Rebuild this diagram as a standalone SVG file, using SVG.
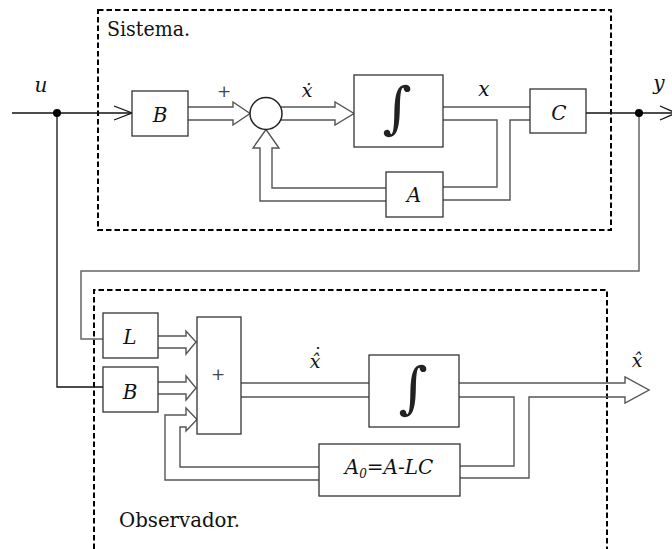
<svg xmlns="http://www.w3.org/2000/svg" width="672" height="549" viewBox="0 0 672 549">
<style>
.frame{fill:none;stroke:#000;stroke-width:2;stroke-dasharray:5.5 3}
.box{fill:#fff;stroke:#333;stroke-width:1.3}
.dbl{fill:#fff;stroke:#555;stroke-width:1.4;stroke-linejoin:miter}
.open{fill:none}
.ln{fill:none;stroke:#111;stroke-width:1.3}
.gln{fill:none;stroke:#666;stroke-width:1.5}
text{font-family:'DejaVu Serif','Liberation Serif',serif;fill:#111}
.i{font-style:italic}
.m{text-anchor:middle}
.int{font-family:'Noto Serif','DejaVu Serif',serif;fill:#222}
.plus{fill:#444}
</style>
<rect width="672" height="549" fill="#fff"/>
<g id="frames">
<rect class="frame" x="98" y="10" width="513" height="220"/>
<path class="frame" d="M94,549 V290 H607 V549"/>
<text x="107" y="36" font-size="20" textLength="83" lengthAdjust="spacingAndGlyphs">Sistema.</text>
<text x="119" y="527" font-size="21" textLength="121" lengthAdjust="spacingAndGlyphs">Observador.</text>
</g>
<g id="connectors">
<path class="ln" d="M12,113 H132"/>
<path class="ln" d="M114,106 L132,113 L114,120"/>
<path class="ln" d="M57,113 V387 H103"/>
<circle cx="57" cy="113" r="4" fill="#000"/>
<path class="ln" d="M586,113 H672"/>
<path class="ln" d="M660,106 L676,113 L660,120"/>
<path class="gln" d="M639,113 V271 H81 V339 H103"/>
<circle cx="639" cy="113" r="4" fill="#000"/>
<path class="dbl" d="M188,107 H233 V102 L250,113.5 L233,125 V120 H188"/>
<path class="dbl" d="M266,107 H335 V102 L354,113.5 L335,125 V120 H266"/>
<path class="dbl" d="M443,107 H530"/>
<path class="dbl open" d="M443,120 H497 V187 H443"/>
<path class="dbl open" d="M530,120 H510 V200 H443"/>
<path class="dbl" d="M386,188 H272 V148 H279 L266,129.5 L253,148 H260 V201 H386"/>
<path class="dbl" d="M158,336 H186 V331 L196,342 L186,354 V348 H158"/>
<path class="dbl" d="M158,382 H186 V376 L196,388 L186,400 V394 H158"/>
<path class="dbl" d="M319,467 H180 V427 H186 V431 L197,419.5 L186,408 V415 H165 V480 H319"/>
<path class="dbl" d="M241,383 H369"/>
<path class="dbl" d="M241,397 H369"/>
<path class="dbl open" d="M459,383 H625 V377 L649,390 L625,403 V397 H529 V478 H460"/>
<path class="dbl open" d="M459,397 H514 V466 H460"/>
<text class="m plus" x="224" y="97" font-size="17">+</text>
<text class="i m" x="307" y="97" font-size="19">ẋ</text>
<text class="i m" x="484" y="96" font-size="20">x</text>
<text class="i m" x="659" y="90" font-size="20">y</text>
<text class="i m" x="41" y="92" font-size="20">u</text>
<text class="i m" x="315" y="368" font-size="19">x̂<tspan x="318" y="361" font-style="normal">˙</tspan></text>
<text class="i m" x="637" y="367" font-size="19">x̂</text>
</g>
<g id="sys-B"><rect class="box" x="132" y="91" width="56" height="45"/><text class="i m" x="160" y="122" font-size="20">B</text></g>
<g id="sum"><circle cx="266" cy="113.5" r="16" fill="#fff" stroke="#222" stroke-width="1.5"/></g>
<g id="sys-int"><rect class="box" x="354" y="75" width="89" height="72"/><text class="m int" x="397" y="127" font-size="56">∫</text></g>
<g id="sys-C"><rect class="box" x="530" y="89" width="56" height="44"/><text class="i m" x="559" y="120" font-size="20">C</text></g>
<g id="sys-A"><rect class="box" x="386" y="172" width="57" height="45"/><text class="i m" x="414" y="202" font-size="20">A</text></g>
<g id="obs-L"><rect class="box" x="103" y="313" width="55" height="45"/><text class="i m" x="130" y="344" font-size="20">L</text></g>
<g id="obs-B"><rect class="box" x="103" y="367" width="55" height="45"/><text class="i m" x="130" y="399" font-size="20">B</text></g>
<g id="obs-sum"><rect class="box" x="197" y="317" width="44" height="117"/><text class="m plus" x="218" y="380" font-size="17">+</text></g>
<g id="obs-int"><rect class="box" x="369" y="355" width="90" height="72"/><text class="m int" x="413" y="407" font-size="56">∫</text></g>
<g id="obs-A0"><rect class="box" x="319" y="444" width="141" height="52"/><text class="i m" x="389" y="474" font-size="20">A<tspan font-size="12" dy="4">0</tspan><tspan dy="-4">=A-LC</tspan></text></g>
</svg>
